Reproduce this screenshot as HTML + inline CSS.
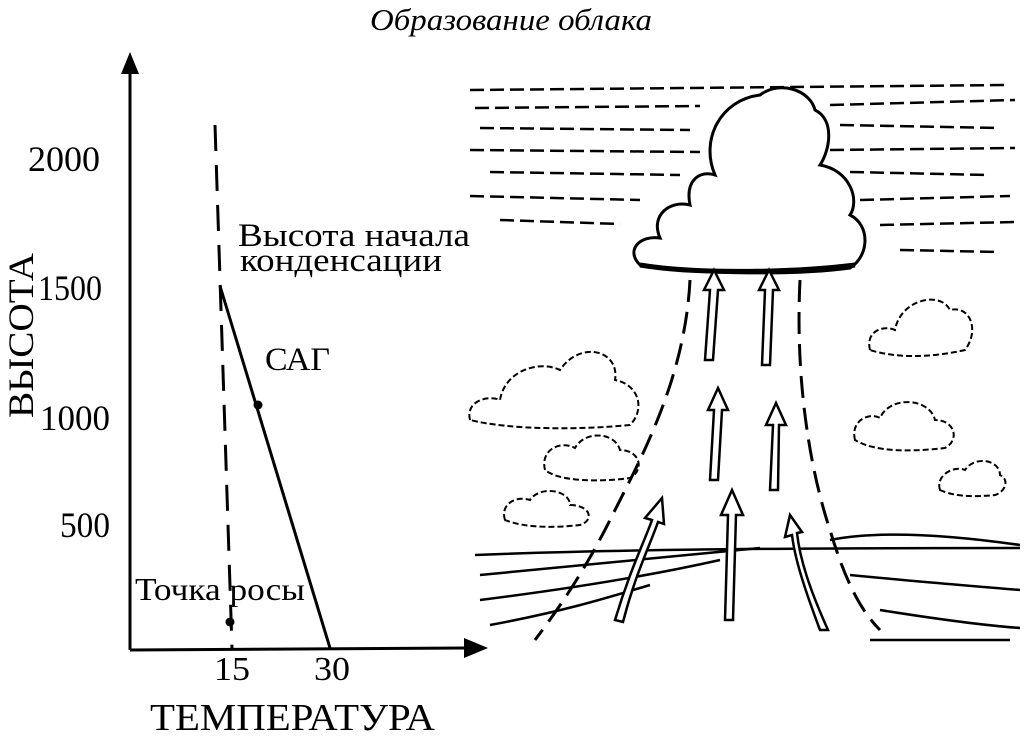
<!DOCTYPE html>
<html><head><meta charset="utf-8"><style>
html,body{margin:0;padding:0;background:#fff;}
svg{display:block}
text{font-family:"Liberation Serif",serif;fill:#000}
</style></head><body>
<svg width="1024" height="745" viewBox="0 0 1024 745" xmlns="http://www.w3.org/2000/svg">
<text x="370" y="30" font-size="31" font-style="italic" textLength="282" lengthAdjust="spacingAndGlyphs">Образование облака</text>
<!-- axes -->
<line x1="130" y1="650" x2="130" y2="72" stroke="#000" stroke-width="3"/>
<path d="M121,74 L130,52 L139,74 Z" fill="#000"/>
<line x1="130" y1="650" x2="466" y2="648" stroke="#000" stroke-width="3"/>
<path d="M464,638 L488,648 L464,658 Z" fill="#000"/>
<text x="28" y="171" font-size="36" textLength="72" lengthAdjust="spacingAndGlyphs">2000</text>
<text x="38" y="300" font-size="36" textLength="64" lengthAdjust="spacingAndGlyphs">1500</text>
<text x="40" y="430" font-size="36" textLength="70" lengthAdjust="spacingAndGlyphs">1000</text>
<text x="60" y="537" font-size="36" textLength="50" lengthAdjust="spacingAndGlyphs">500</text>
<text transform="translate(33,418) rotate(-90)" font-size="36" textLength="165" lengthAdjust="spacingAndGlyphs">ВЫСОТА</text>
<text x="214" y="680" font-size="34" textLength="36" lengthAdjust="spacingAndGlyphs">15</text>
<text x="314" y="680" font-size="34" textLength="36" lengthAdjust="spacingAndGlyphs">30</text>
<text x="150" y="730" font-size="38" textLength="285" lengthAdjust="spacingAndGlyphs">ТЕМПЕРАТУРА</text>
<!-- dashed dew point line -->
<line x1="215" y1="125" x2="232" y2="648" stroke="#000" stroke-width="3" stroke-dasharray="26,14"/>
<line x1="220" y1="286" x2="330" y2="648" stroke="#000" stroke-width="3"/>
<circle cx="258" cy="405" r="4.5" fill="#000"/>
<circle cx="230" cy="622" r="4.5" fill="#000"/>
<text x="238" y="246" font-size="33" textLength="232" lengthAdjust="spacingAndGlyphs">Высота начала</text>
<text x="240" y="271" font-size="33" textLength="202" lengthAdjust="spacingAndGlyphs">конденсации</text>
<text x="265" y="370" font-size="33" textLength="65" lengthAdjust="spacingAndGlyphs">САГ</text>
<text x="135" y="600" font-size="32" textLength="170" lengthAdjust="spacingAndGlyphs">Точка росы</text>
<!-- sky streaks -->
<g stroke="#000" stroke-width="2.5" stroke-dasharray="14,6" fill="none">
<path d="M470,90 L1010,85"/><path d="M475,108 L700,106"/><path d="M830,105 L1015,100"/>
<path d="M480,128 L690,130"/><path d="M840,125 L1000,128"/><path d="M470,150 L700,152"/>
<path d="M830,150 L1015,148"/><path d="M490,172 L680,175"/><path d="M850,172 L990,175"/>
<path d="M470,196 L640,200"/><path d="M860,200 L1010,196"/><path d="M500,220 L620,224"/>
<path d="M880,225 L1015,222"/><path d="M900,250 L1000,252"/>
</g>
<!-- main cloud -->
<path d="M640,265 C625,250 640,235 660,238 C650,215 670,200 690,205 C685,180 700,170 715,175 C700,140 720,100 760,95 C780,80 810,90 815,110 C835,120 830,150 820,165 C850,170 860,200 850,215 C870,225 870,255 850,268 C800,275 700,275 640,265 Z" fill="#fff" stroke="#000" stroke-width="3"/>
<path d="M640,265 C700,275 800,272 855,265" stroke="#000" stroke-width="5" fill="none"/>
<!-- side clouds -->
<g fill="none" stroke="#000" stroke-width="2" stroke-dasharray="6,3">
<path d="M470,420 C465,400 490,395 500,400 C505,370 540,360 560,370 C580,340 620,350 615,380 C640,385 645,410 630,425 C580,430 510,430 470,420 Z"/>
<path d="M545,470 C540,450 560,440 575,448 C585,430 615,432 620,450 C640,450 645,470 630,478 C600,482 560,482 545,470 Z"/>
<path d="M505,520 C500,505 515,495 530,500 C540,485 570,490 570,505 C590,505 595,520 580,525 C555,528 525,528 505,520 Z"/>
<path d="M870,350 C865,330 885,325 895,330 C900,300 940,290 950,310 C970,305 980,330 965,350 C930,358 895,358 870,350 Z"/>
<path d="M855,440 C850,420 870,412 880,418 C890,395 930,398 935,420 C955,420 960,440 945,448 C910,452 875,452 855,440 Z"/>
<path d="M940,490 C935,475 955,465 965,470 C975,455 1000,460 1000,475 C1010,480 1005,492 995,495 C975,497 955,497 940,490 Z"/>
</g>
<!-- horizon / ground -->
<g stroke="#000" fill="none" stroke-width="2.5">
<path d="M475,555 C600,550 750,548 1020,548"/>
<path d="M480,575 C560,568 640,560 760,548"/>
<path d="M480,600 C560,590 640,578 720,560"/>
<path d="M490,625 C560,612 600,600 650,585"/>
<path d="M830,540 C880,530 950,535 1020,545"/>
<path d="M850,575 C900,580 960,585 1020,590"/>
<path d="M880,610 C930,618 980,625 1020,628"/>
<path d="M870,640 L1010,640"/>
</g>
<!-- dashed outline of rising column -->
<g stroke="#000" fill="none" stroke-width="3" stroke-dasharray="22,10">
<path d="M690,280 C685,380 640,460 610,520 C580,580 550,620 535,640"/>
<path d="M800,280 C795,380 810,470 830,530 C845,580 860,610 880,630"/>
</g>
<!-- hollow arrows -->
<g fill="#fff" stroke="#000" stroke-width="2.5">
<path d="M705,360 L710,290 L704,290 L714,270 L724,290 L718,290 L713,360 Z"/>
<path d="M762,365 L765,290 L759,290 L769,270 L779,290 L773,290 L770,365 Z"/>
<path d="M710,480 L714,410 L708,410 L718,388 L728,410 L722,410 L718,480 Z"/>
<path d="M770,490 L773,425 L766,425 L776,403 L786,425 L779,425 L778,490 Z"/>
<path d="M615,620 C630,570 645,540 652,520 L645,518 L662,498 L664,524 L658,522 C650,545 635,575 623,622 Z"/>
<path d="M725,620 L728,515 L721,515 L732,490 L743,515 L736,515 L733,620 Z"/>
<path d="M820,630 C805,590 795,560 792,535 L785,537 L790,515 L802,532 L797,533 C800,560 810,590 828,630 Z"/>
</g>
</svg>
</body></html>
